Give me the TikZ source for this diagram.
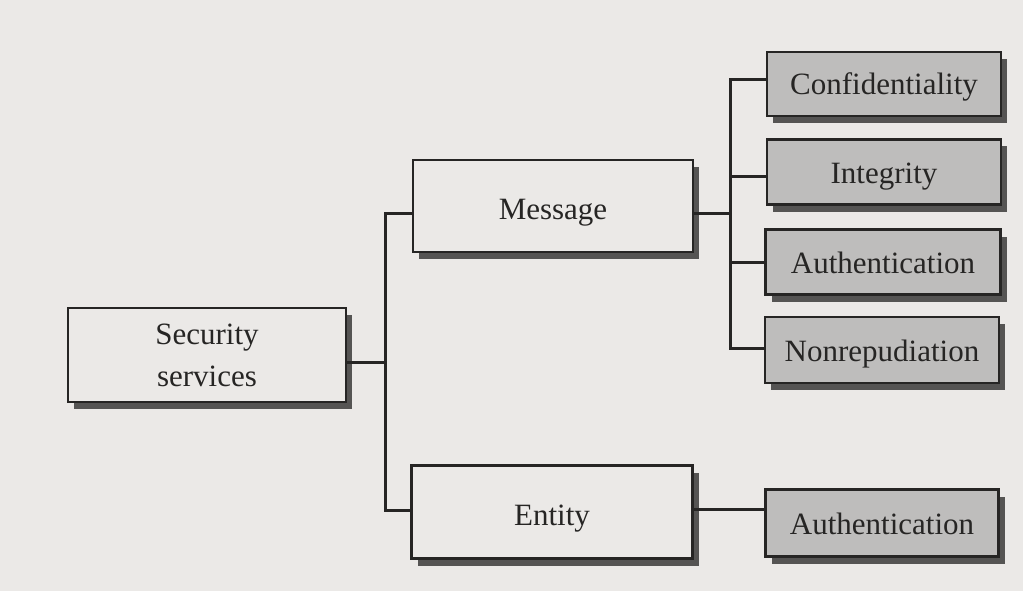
\documentclass[tikz,border=0pt]{standalone}
\usepackage{fontspec}
\setmainfont{Liberation Serif}
\usetikzlibrary{shadows}
\definecolor{paper}{HTML}{EBE9E7}
\definecolor{leaffill}{HTML}{BEBDBC}
\definecolor{shade}{HTML}{555453}
\definecolor{ink}{HTML}{262524}
\tikzset{
  box/.style={draw=ink, line width=2.8pt, text=ink, align=center,
    font=\fontsize{31}{42}\selectfont, inner sep=0pt,
    drop shadow={shadow xshift=6pt, shadow yshift=-7pt, fill=shade, opacity=1}},
  plainbox/.style={box, fill=paper},
  leafbox/.style={box, fill=leaffill, text height=25pt, text depth=3pt},
  lowtext/.style={text height=29pt, text depth=3pt},
  link/.style={draw=ink, line width=3pt}
}
\begin{document}
\begin{tikzpicture}[x=1pt,y=-1pt]
  \fill[paper] (0,0) rectangle (1023,591);
  \useasboundingbox (0,0) rectangle (1023,591);

  % root and second level
  \node[plainbox, minimum width=278pt, minimum height=94pt] (sec) at (207,355) {Security\\services};
  \node[plainbox, lowtext, minimum width=280pt, minimum height=92pt] (msg) at (553,206) {Message};
  \node[plainbox, lowtext, minimum width=281pt, minimum height=93pt] (ent) at (552,512) {Entity};

  % leaves
  \node[leafbox, minimum width=234pt, minimum height=64pt] (conf) at (884,84) {Confidentiality};
  \node[leafbox, minimum width=234pt, minimum height=65pt] (integ) at (884,172) {Integrity};
  \node[leafbox, minimum width=235pt, minimum height=65pt] (mauth) at (883,262) {Authentication};
  \node[leafbox, minimum width=234pt, minimum height=66pt] (nonrep) at (882,350) {Nonrepudiation};
  \node[leafbox, minimum width=233pt, minimum height=67pt] (eauth) at (882,523) {Authentication};

  % tree connectors
  \coordinate (j1) at (385,362);
  \coordinate (j2) at (730,213);
  \draw[link] (sec.east |- j1) -- (j1);
  \draw[link] (j1) |- ([yshift=-7pt]msg.west);
  \draw[link] (j1) |- ([yshift=2pt]ent.west);
  \draw[link] (msg.east |- j2) -- (j2);
  \draw[link] (j2) |- ([yshift=4pt]conf.west);
  \draw[link] (j2) |- ([yshift=-5pt]integ.west);
  \draw[link] (j2) |- (mauth.west);
  \draw[link] (j2) |- ([yshift=2pt]nonrep.west);
  \draw[link] ([yshift=3pt]ent.east) -- ([yshift=3pt]ent.east -| eauth.west);
\end{tikzpicture}
\end{document}
